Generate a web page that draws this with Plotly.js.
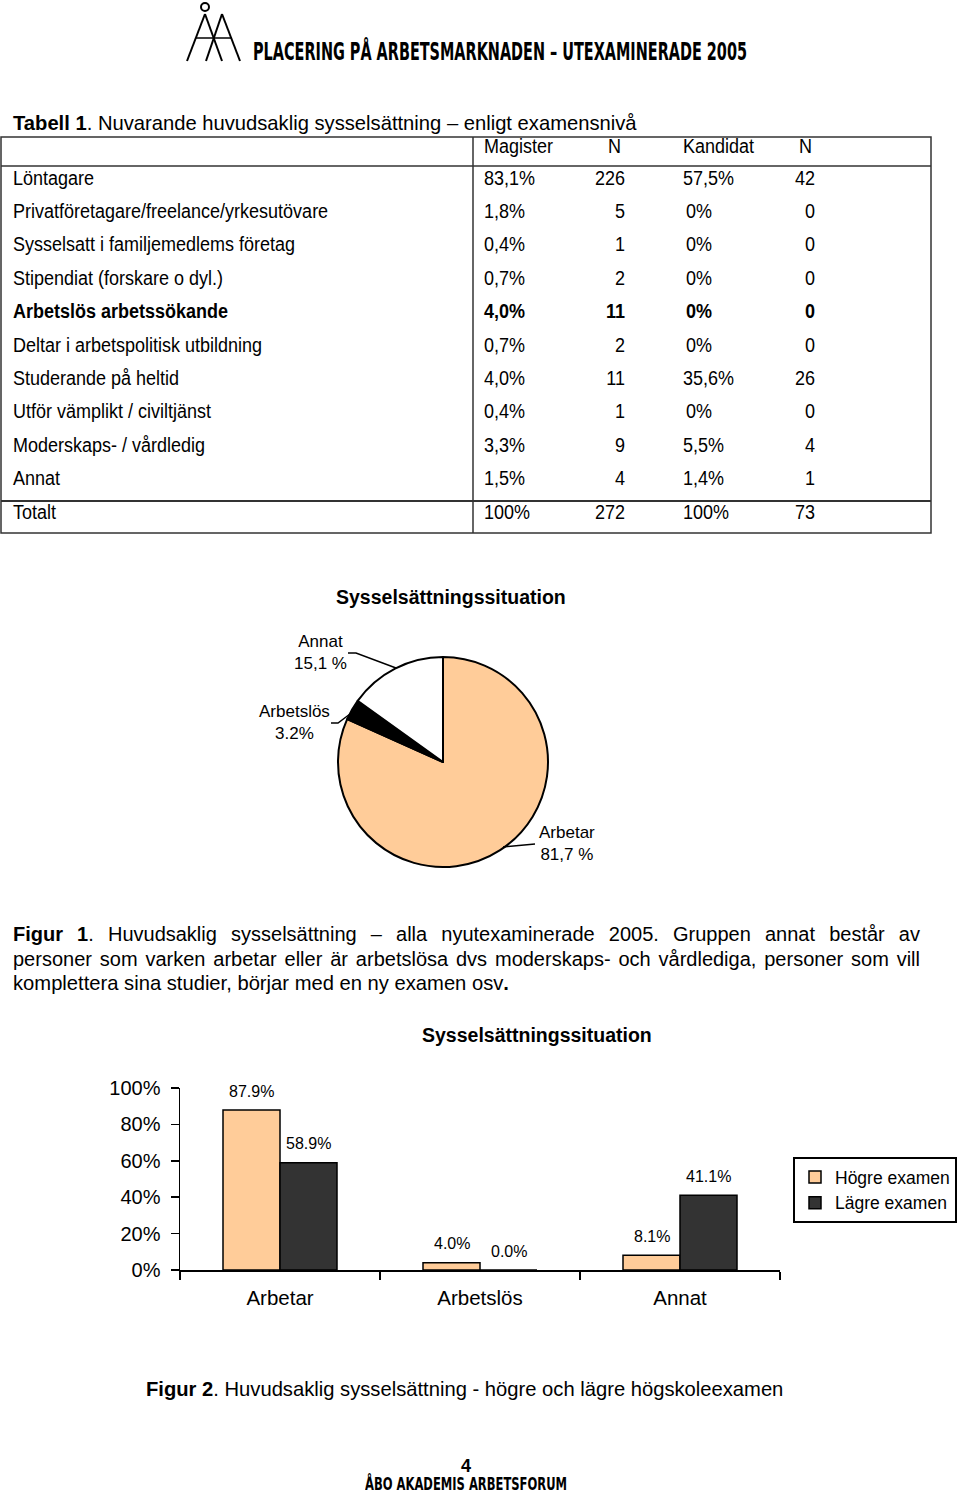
<!DOCTYPE html>
<html><head><meta charset="utf-8">
<script src="https://cdn.plot.ly/plotly-3.0.1.min.js"></script>
<style>
body{margin:0;background:#fff;}
#page{position:relative;width:960px;height:1496px;overflow:hidden;font-family:"Liberation Sans",Arial,sans-serif;color:#000;background:#fff;}
#chart{position:absolute;left:0;top:0;width:960px;height:1496px;}
#overlay{position:absolute;left:0;top:0;width:960px;height:1496px;pointer-events:none;}
.t{position:absolute;white-space:nowrap;line-height:1;}
.j{position:absolute;line-height:1;text-align:justify;text-align-last:justify;}
.cond{position:absolute;white-space:nowrap;line-height:0.8;font-family:"DejaVu Sans Condensed","DejaVu Sans",sans-serif;font-stretch:condensed;font-weight:bold;transform-origin:0 0;}
</style></head><body>
<div id="page"><div id="chart"></div><div id="overlay">
<svg width="960" height="1496" style="position:absolute;left:0;top:0">
  <g stroke="#000" stroke-width="2" fill="none">
    <circle cx="205" cy="7" r="4"/>
    <line x1="205" y1="14" x2="187" y2="61"/>
    <line x1="205" y1="14" x2="222" y2="61"/>
    <line x1="222" y1="14" x2="206" y2="61"/>
    <line x1="222" y1="14" x2="240" y2="61"/>
    <line x1="196" y1="38" x2="232" y2="38" stroke-width="1.5"/>
  </g>
  <g stroke="#333" fill="none">
    <rect x="1" y="137" width="930" height="396" stroke-width="1.5"/>
    <line x1="1" y1="166" x2="931" y2="166" stroke-width="1.5"/>
    <line x1="1" y1="501" x2="931" y2="501" stroke-width="2"/>
    <line x1="473" y1="137" x2="473" y2="533" stroke-width="1.5"/>
  </g>
</svg>
</div></div>
<script>
// ---------- Table data ----------
const tableHeader = ['Magister', 'N', 'Kandidat', 'N'];
const rowLabels = ['Löntagare', 'Privatföretagare/freelance/yrkesutövare', 'Sysselsatt i familjemedlems företag',
  'Stipendiat (forskare o dyl.)', 'Arbetslös arbetssökande', 'Deltar i arbetspolitisk utbildning',
  'Studerande på heltid', 'Utför vämplikt / civiltjänst', 'Moderskaps- / vårdledig', 'Annat', 'Totalt'];
const magisterPct = [83.1, 1.8, 0.4, 0.7, 4.0, 0.7, 4.0, 0.4, 3.3, 1.5, 100];
const magisterN   = [226, 5, 1, 2, 11, 2, 11, 1, 9, 4, 272];
const kandidatPct = [57.5, 0, 0, 0, 0, 0, 35.6, 0, 5.5, 1.4, 100];
const kandidatN   = [42, 0, 0, 0, 0, 0, 26, 0, 4, 1, 73];
const boldRows = ['Arbetslös arbetssökande'];

// ---------- Pie data ----------
const pieLabels = ['Arbetar', 'Arbetslös', 'Annat'];
const pieValues = [81.7, 3.2, 15.1];
const pieValueText = ['81,7 %', '3.2%', '15,1 %'];

// ---------- Bar data ----------
const barCategories = ['Arbetar', 'Arbetslös', 'Annat'];
const seriesNames = ['Högre examen', 'Lägre examen'];
const hogre = [87.9, 4.0, 8.1];
const lagre = [58.9, 0.0, 41.1];
const yTicks = [0, 20, 40, 60, 80, 100];

// ---------- helpers ----------
const overlay = document.getElementById('overlay');
function addText(html, x, y, o) {
  o = o || {};
  const d = document.createElement('div');
  d.className = 't';
  d.innerHTML = html;
  d.style.left = x + 'px';
  d.style.top = y + 'px';
  d.style.fontSize = (o.size || 18) + 'px';
  if (o.bold) d.style.fontWeight = 'bold';
  if (o.lh) d.style.lineHeight = o.lh;
  const tx = o.anchor === 'right' ? '-100%' : (o.anchor === 'center' ? '-50%' : '0');
  const sx = o.sx ? ' scaleX(' + o.sx + ')' : '';
  d.style.transformOrigin = (o.anchor === 'right' ? 'right' : (o.anchor === 'center' ? 'center' : 'left')) + ' center';
  d.style.transform = 'translate(' + tx + ',-50%)' + sx;
  overlay.appendChild(d);
  return d;
}
function addJustified(html, x, y, w, size) {
  const d = document.createElement('div');
  d.className = 'j';
  d.innerHTML = html;
  d.style.left = x + 'px';
  d.style.top = y + 'px';
  d.style.width = w + 'px';
  d.style.fontSize = size + 'px';
  d.style.transform = 'translateY(-50%)';
  overlay.appendChild(d);
}
function addCondensed(text, left, top, width, size) {
  const d = document.createElement('div');
  d.className = 'cond';
  d.textContent = text;
  d.style.left = left + 'px';
  d.style.top = top + 'px';
  d.style.fontSize = size + 'px';
  overlay.appendChild(d);
  const w = d.getBoundingClientRect().width;
  d.style.transform = 'scaleX(' + (width / w) + ')';
}
function fmtPct(v) {
  if (v === 0) return '0%';
  if (v === 100) return '100%';
  return v.toFixed(1).replace('.', ',') + '%';
}

// ---------- Header / footer ----------
addCondensed('PLACERING PÅ ARBETSMARKNADEN – UTEXAMINERADE 2005', 253, 42, 494, 25);
addText('4', 466, 1466, {size: 18, bold: true, anchor: 'center', lh: 0.8});
addCondensed('ÅBO AKADEMIS ARBETSFORUM', 365, 1477, 202, 17.5);

// ---------- Table text ----------
const TS = 19.5, TSX = 0.923;
addText('<b>Tabell 1</b>. Nuvarande huvudsaklig sysselsättning – enligt examensnivå', 13, 123, {size: 20.2});
addText(tableHeader[0], 484, 147, {size: TS, sx: TSX});
addText(tableHeader[1], 608, 147, {size: TS, sx: TSX});
addText(tableHeader[2], 683, 147, {size: TS, sx: TSX});
addText(tableHeader[3], 799, 147, {size: TS, sx: TSX});
const rowY = [179, 212, 245, 279, 312, 346, 379, 412, 446, 479, 513];
rowLabels.forEach((lab, i) => {
  const b = boldRows.includes(lab);
  const y = rowY[i];
  addText(lab, 13, y, {bold: b, size: TS, sx: TSX});
  addText(fmtPct(magisterPct[i]), 484, y, {bold: b, size: TS, sx: TSX});
  addText(String(magisterN[i]), 625, y, {bold: b, anchor: 'right', size: TS, sx: TSX});
  addText(fmtPct(kandidatPct[i]), kandidatPct[i] === 0 ? 686 : 683, y, {bold: b, size: TS, sx: TSX});
  addText(String(kandidatN[i]), 815, y, {bold: b, anchor: 'right', size: TS, sx: TSX});
});

// ---------- Captions ----------
addJustified('<b>Figur 1</b>. Huvudsaklig sysselsättning – alla nyutexaminerade 2005. Gruppen annat består av', 13, 934, 907, 20);
addJustified('personer som varken arbetar eller är arbetslösa dvs moderskaps- och vårdlediga, personer som vill', 13, 959, 907, 20);
addText('komplettera sina studier, börjar med en ny examen osv<b>.</b>', 13, 983, {size: 20.2});
addText('<b>Figur 2</b>. Huvudsaklig sysselsättning - högre och lägre högskoleexamen', 146, 1389, {size: 20.2});

// ---------- Plotly figure ----------
const W = 960, H = 1496;
const px = x => x / W, py = y => 1 - y / H;
const FONT = 'Liberation Sans, Arial, sans-serif';

const pieTrace = {
  type: 'pie', labels: pieLabels, values: pieValues, sort: false, direction: 'clockwise', rotation: 0,
  textinfo: 'none', hoverinfo: 'none', showlegend: false,
  marker: {colors: ['#FFCC99', '#000000', '#FFFFFF'], line: {color: '#000', width: 2}},
  domain: {x: [px(338), px(548)], y: [py(867), py(657)]}
};
const barColors = ['#FFCC99', '#333333'];
const barSeries = [hogre, lagre];
const barTraces = barSeries.map((vals, k) => ({
  type: 'bar', name: seriesNames[k], x: barCategories, y: vals,
  marker: {color: barColors[k], line: {color: '#000', width: 1.5}},
  hoverinfo: 'none', xaxis: 'x', yaxis: 'y'
}));

const annotations = [];
annotations.push({text: '<b>Sysselsättningssituation</b>', x: px(451), y: py(597), xref: 'paper', yref: 'paper',
  showarrow: false, font: {size: 19.5, family: FONT, color: '#000'}, xanchor: 'center', yanchor: 'middle'});
annotations.push({text: '<b>Sysselsättningssituation</b>', x: px(537), y: py(1035), xref: 'paper', yref: 'paper',
  showarrow: false, font: {size: 19.5, family: FONT, color: '#000'}, xanchor: 'center', yanchor: 'middle'});
const pieLabelPos = [[567, 843.5], [294, 722.5], [320, 652.5]];
pieLabels.forEach((lab, i) => {
  annotations.push({text: lab + '<br>' + pieValueText[i], x: px(pieLabelPos[i][0]), y: py(pieLabelPos[i][1]),
    xref: 'paper', yref: 'paper', showarrow: false, align: 'center', xanchor: 'center', yanchor: 'middle',
    font: {size: 17, family: FONT, color: '#000'}});
});
const barOffsets = [-28.5, 28.5];
barSeries.forEach((vals, k) => {
  vals.forEach((v, i) => {
    annotations.push({text: v.toFixed(1) + '%', x: barCategories[i], y: v, xref: 'x', yref: 'y',
      xshift: barOffsets[k], yshift: 19, showarrow: false, xanchor: 'center', yanchor: 'middle',
      font: {size: 16, family: FONT, color: '#000'}});
  });
});

function pathPx(pts) {
  return pts.map((p, i) => (i ? 'L' : 'M') + px(p[0]) + ',' + py(p[1])).join(' ');
}
const leaders = [
  [[503, 847], [535, 844]],
  [[331, 723], [338, 723], [350, 714]],
  [[348, 653], [356, 653], [396, 668]]
];
const shapes = leaders.map(pts => ({type: 'path', xref: 'paper', yref: 'paper', path: pathPx(pts),
  line: {color: '#000', width: 1.5}}));

const layout = {
  width: W, height: H, margin: {l: 0, r: 0, t: 0, b: 0, pad: 0, autoexpand: false},
  paper_bgcolor: 'rgba(0,0,0,0)', plot_bgcolor: 'rgba(0,0,0,0)',
  font: {family: FONT, color: '#000'},
  hovermode: false, showlegend: true,
  barmode: 'group', bargap: 0.43, bargroupgap: 0,
  xaxis: {domain: [px(180), px(780)], anchor: 'y', type: 'category', range: [-0.5, 2.5],
    showline: true, linecolor: '#000', linewidth: 1.5, ticks: 'outside', tickson: 'boundaries',
    ticklen: 8, tickwidth: 1.5, tickcolor: '#000', showgrid: false, zeroline: false,
    tickfont: {size: 20.5, family: FONT, color: '#000'}, ticklabelstandoff: 9, fixedrange: true},
  yaxis: {domain: [py(1270), py(1088)], anchor: 'x', range: [0, 100], tickmode: 'array',
    tickvals: yTicks, ticktext: yTicks.map(v => v + '%'),
    showline: true, linecolor: '#000', linewidth: 1.5, ticks: 'outside', ticklen: 8, tickwidth: 1.5,
    tickcolor: '#000', showgrid: false, zeroline: false,
    tickfont: {size: 20, family: FONT, color: '#000'}, ticklabelstandoff: 6, fixedrange: true},
  legend: {x: px(957), y: py(1157), xanchor: 'right', yanchor: 'top', bordercolor: '#000', borderwidth: 2,
    bgcolor: '#fff', font: {size: 17.5, family: FONT, color: '#000'}, traceorder: 'normal', tracegroupgap: 0,
    itemwidth: 30, itemclick: false, itemdoubleclick: false},
  annotations: annotations,
  shapes: shapes
};

Plotly.newPlot('chart', [pieTrace].concat(barTraces), layout, {displayModeBar: false, staticPlot: true});
</script>
</body></html>
